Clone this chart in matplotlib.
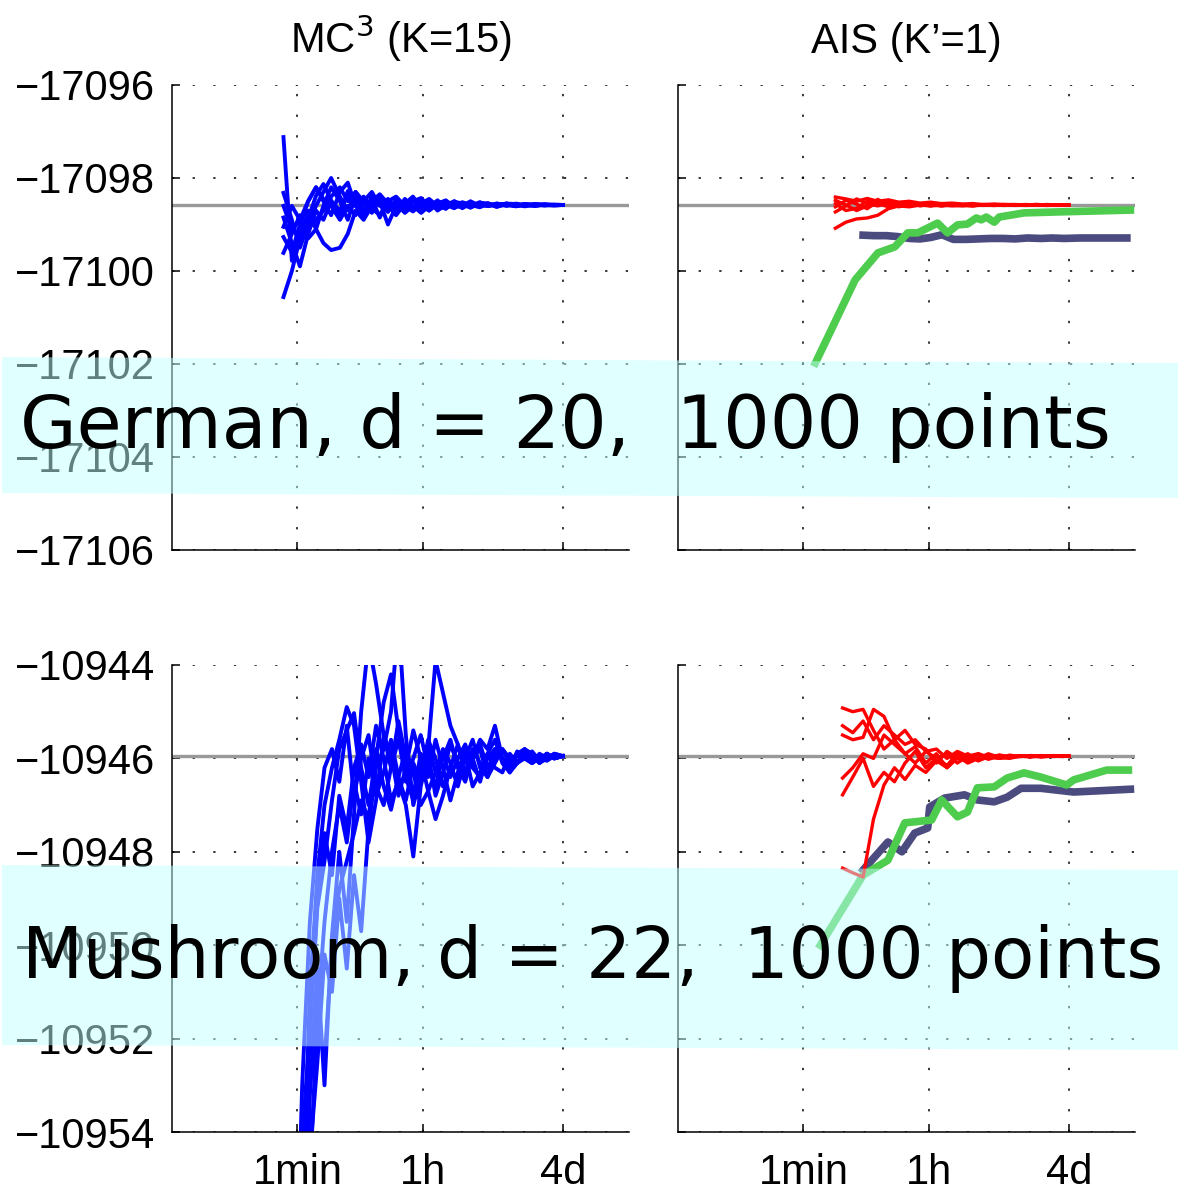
import numpy as np
import matplotlib
matplotlib.use("Agg")
import matplotlib.pyplot as plt
from matplotlib.patches import Polygon
from matplotlib.ticker import NullLocator

plt.rcParams['font.family'] = ['Liberation Sans', 'DejaVu Sans']
plt.rcParams['font.size'] = 30

## data (time in seconds, log-likelihood estimates)

# German, MC^3 runs
german_mc3_t = [38, 50, 65, 85, 110, 140, 180, 240, 310, 400, 520, 680, 880, 1150, 1500, 2000, 2600,
                3400, 4400, 5800, 7600, 10000, 13000, 17000, 23000, 30000, 40000, 55000, 75000,
                100000, 140000, 190000, 260000, 345600]
german_mc3_runs = [
    [-17097.12, -17099.78, -17099.18, -17098.88, -17098.38, -17098.13, -17098.48, -17098.78, -17098.28, -17098.53,
     -17098.83, -17098.38, -17098.48, -17098.73, -17098.46, -17098.68, -17098.50, -17098.43, -17098.63, -17098.48,
     -17098.66, -17098.52, -17098.54, -17098.64, -17098.53, -17098.55, -17098.62, -17098.55, -17098.56, -17098.61,
     -17098.56, -17098.57, -17098.59, -17098.58],
    [-17100.56, -17100.0, -17099.3, -17098.7, -17099.1, -17098.6, -17098.2, -17098.5, -17098.9, -17098.4,
     -17098.7, -17098.45, -17098.85, -17098.5, -17098.7, -17098.45, -17098.62, -17098.5, -17098.7, -17098.55,
     -17098.48, -17098.62, -17098.55, -17098.6, -17098.52, -17098.6, -17098.56, -17098.6, -17098.55, -17098.58,
     -17098.6, -17098.57, -17098.58, -17098.58],
    [-17098.32, -17098.9, -17099.5, -17099.0, -17098.6, -17098.3, -17098.0, -17098.4, -17098.7, -17098.3,
     -17098.55, -17098.75, -17098.4, -17098.6, -17098.8, -17098.55, -17098.4, -17098.65, -17098.5, -17098.7,
     -17098.58, -17098.5, -17098.65, -17098.55, -17098.6, -17098.54, -17098.62, -17098.56, -17098.6, -17098.56,
     -17098.59, -17098.57, -17098.58, -17098.58],
    [-17099.05, -17098.6, -17098.9, -17099.3, -17099.1, -17099.4, -17099.55, -17099.5, -17099.2, -17098.7,
     -17098.9, -17098.6, -17098.45, -17098.7, -17098.55, -17098.75, -17098.6, -17098.5, -17098.68, -17098.52,
     -17098.63, -17098.55, -17098.6, -17098.5, -17098.6, -17098.55, -17098.6, -17098.57, -17098.6, -17098.56,
     -17098.58, -17098.59, -17098.57, -17098.58],
    [-17099.27, -17099.6, -17099.0, -17098.5, -17098.2, -17098.5, -17098.8, -17098.3, -17098.1, -17098.6,
     -17098.4, -17098.65, -17098.8, -17098.5, -17098.4, -17098.6, -17098.72, -17098.55, -17098.45, -17098.6,
     -17098.66, -17098.5, -17098.58, -17098.63, -17098.55, -17098.6, -17098.55, -17098.58, -17098.61, -17098.57,
     -17098.58, -17098.58, -17098.59, -17098.58],
    [-17099.61, -17099.2, -17098.8, -17099.1, -17098.9, -17098.7, -17098.4, -17098.2, -17098.5, -17098.3,
     -17098.5, -17098.7, -17098.5, -17099.0, -17098.6, -17098.5, -17098.7, -17098.6, -17098.48, -17098.65,
     -17098.55, -17098.62, -17098.52, -17098.58, -17098.63, -17098.56, -17098.59, -17098.55, -17098.6, -17098.58,
     -17098.56, -17098.59, -17098.58, -17098.58],
    [-17098.85, -17099.4, -17099.9, -17099.2, -17098.7, -17098.9, -17098.5, -17098.7, -17098.35, -17098.6,
     -17098.8, -17098.5, -17098.35, -17098.55, -17098.7, -17098.6, -17098.48, -17098.6, -17098.7, -17098.56,
     -17098.5, -17098.6, -17098.63, -17098.55, -17098.58, -17098.6, -17098.55, -17098.59, -17098.57, -17098.6,
     -17098.57, -17098.58, -17098.58, -17098.58],
    [-17098.6, -17099.1, -17098.9, -17098.5, -17098.2, -17098.45, -17098.6, -17098.9, -17098.6, -17098.8,
     -17098.5, -17098.3, -17098.6, -17098.45, -17098.65, -17098.5, -17098.6, -17098.75, -17098.6, -17098.5,
     -17098.58, -17098.65, -17098.55, -17098.6, -17098.56, -17098.6, -17098.58, -17098.55, -17098.59, -17098.58,
     -17098.6, -17098.57, -17098.58, -17098.58],
]

# German, AIS (red runs, navy and green summaries)
german_ais_t = [170, 240, 340, 480, 680, 960, 1350, 1900, 2700, 3800, 5400, 7600, 11000, 15000, 21000,
                30000, 42000, 60000, 85000, 120000, 170000, 240000, 345600]
german_ais_runs = [
    [-17098.41, -17098.45, -17098.5, -17098.44, -17098.5, -17098.47, -17098.52, -17098.5, -17098.54, -17098.52,
     -17098.55, -17098.54, -17098.56, -17098.55, -17098.57, -17098.56, -17098.57, -17098.57, -17098.58, -17098.57,
     -17098.58, -17098.58, -17098.58],
    [-17099.08, -17098.95, -17098.88, -17098.86, -17098.8, -17098.66, -17098.6, -17098.62, -17098.58, -17098.6,
     -17098.58, -17098.6, -17098.59, -17098.6, -17098.58, -17098.59, -17098.58, -17098.59, -17098.58, -17098.58,
     -17098.59, -17098.58, -17098.58],
    [-17098.73, -17098.6, -17098.45, -17098.55, -17098.6, -17098.52, -17098.58, -17098.54, -17098.6, -17098.56,
     -17098.58, -17098.56, -17098.58, -17098.57, -17098.59, -17098.57, -17098.58, -17098.58, -17098.57, -17098.58,
     -17098.58, -17098.58, -17098.58],
    [-17098.55, -17098.7, -17098.65, -17098.5, -17098.55, -17098.62, -17098.55, -17098.6, -17098.55, -17098.58,
     -17098.6, -17098.57, -17098.58, -17098.6, -17098.57, -17098.58, -17098.59, -17098.58, -17098.58, -17098.58,
     -17098.57, -17098.58, -17098.58],
    [-17098.62, -17098.48, -17098.56, -17098.66, -17098.5, -17098.56, -17098.62, -17098.56, -17098.58, -17098.55,
     -17098.6, -17098.58, -17098.57, -17098.59, -17098.58, -17098.58, -17098.57, -17098.58, -17098.59, -17098.58,
     -17098.58, -17098.58, -17098.58],
    [-17098.48, -17098.58, -17098.7, -17098.6, -17098.46, -17098.58, -17098.54, -17098.6, -17098.56, -17098.6,
     -17098.56, -17098.58, -17098.6, -17098.57, -17098.58, -17098.59, -17098.58, -17098.58, -17098.58, -17098.57,
     -17098.58, -17098.58, -17098.58],
]
german_navy_t = [420, 600, 900, 1300, 1900, 2700, 3800, 5500, 8000, 12000, 18000, 27000, 40000, 60000,
                 90000, 140000, 200000, 300000, 500000, 800000, 1400000, 2300000]
german_navy_v = [-17099.23, -17099.24, -17099.24, -17099.26, -17099.30, -17099.31, -17099.28, -17099.22,
                 -17099.32, -17099.32, -17099.31, -17099.3, -17099.3, -17099.31, -17099.29, -17099.3,
                 -17099.29, -17099.3, -17099.29, -17099.29, -17099.29, -17099.29]
german_green_t = [88.5, 324, 682, 1185, 1807, 2500, 4780, 6600, 9140, 12650, 16900, 19900, 23400, 30400,
                  35700, 80400, 234000, 2580000]
german_green_v = [-17101.98, -17100.19, -17099.61, -17099.48, -17099.18, -17099.18, -17098.97, -17099.18,
                  -17099.01, -17098.99, -17098.86, -17098.90, -17098.84, -17098.95, -17098.84, -17098.75,
                  -17098.73, -17098.69]
german_true = -17098.58

# Mushroom, MC^3 runs
mush_mc3_t = [56, 70, 90, 115, 145, 185, 235, 300, 380, 480, 610, 780, 1000, 1270, 1620, 2060, 2630, 3350,
              4270, 5440, 6930, 8830, 11250, 14330, 18260, 23260, 29640, 37760, 48110, 61300, 78100, 99500,
              126800, 161500, 205800, 262200, 345600]
mush_mc3_runs = [
    [-10958, -10953, -10949.5, -10947.5, -10946.2, -10945.8, -10946.5, -10945.3, -10946.8, -10946.0,
     -10945.5, -10946.6, -10947.0, -10946.2, -10945.6, -10946.4, -10946.9, -10946.1, -10945.7, -10946.3,
     -10946.0, -10945.6, -10946.2, -10946.5, -10945.9, -10945.7, -10946.2, -10946.0, -10945.8, -10946.1,
     -10945.9, -10946.0, -10945.85, -10946.05, -10945.9, -10946.0, -10945.95],
    [-10960, -10956, -10951, -10948.5, -10947, -10946.2, -10945.6, -10944.9, -10945.3, -10946.5,
     -10947.8, -10946.9, -10945.5, -10945.9, -10946.8, -10946.2, -10945.4, -10946.0, -10946.7, -10946.3,
     -10945.8, -10946.1, -10946.6, -10946.0, -10945.6, -10946.2, -10946.4, -10945.8, -10946.0, -10946.2,
     -10945.9, -10945.8, -10946.1, -10946.0, -10945.9, -10946.0, -10945.95],
    [-10962, -10958, -10953.2, -10950.5, -10953.0, -10949.8, -10948.0, -10949.5, -10947.2, -10945.0,
     -10943.5, -10944.4, -10945.5, -10946.2, -10945.2, -10946.0, -10946.8, -10945.9, -10946.4, -10945.6,
     -10946.2, -10946.9, -10946.3, -10945.8, -10946.0, -10946.5, -10945.9, -10945.6, -10946.1, -10946.3,
     -10945.9, -10946.0, -10946.1, -10945.9, -10946.0, -10945.95, -10945.95],
    [-10961, -10957, -10954.5, -10952.5, -10950.2, -10951.0, -10949.0, -10950.5, -10948.5, -10949.7,
     -10947.5, -10946.2, -10945.8, -10945.0, -10943.0, -10945.5, -10947.0, -10946.4, -10945.6, -10946.0,
     -10946.6, -10946.2, -10945.7, -10946.3, -10946.0, -10945.8, -10946.4, -10946.1, -10945.8, -10946.0,
     -10946.1, -10945.9, -10946.0, -10946.05, -10945.9, -10946.0, -10945.95],
    [-10959, -10955, -10952, -10949.0, -10947.6, -10948.5, -10946.8, -10947.5, -10946.2, -10945.7,
     -10946.4, -10945.3, -10946.0, -10946.9, -10946.5, -10947.0, -10948.1, -10946.6, -10945.9, -10946.8,
     -10946.3, -10945.7, -10946.1, -10946.4, -10945.8, -10946.1, -10946.2, -10945.9, -10946.0, -10946.2,
     -10945.85, -10946.0, -10946.1, -10945.95, -10946.0, -10945.9, -10945.95],
    [-10963, -10959, -10955, -10951.5, -10949.5, -10948.0, -10947.0, -10947.8, -10946.5, -10947.2,
     -10946.0, -10946.8, -10946.3, -10945.6, -10946.4, -10946.9, -10946.1, -10946.5, -10945.8, -10943.9,
     -10944.6, -10945.3, -10945.7, -10946.3, -10946.0, -10945.6, -10945.8, -10945.3, -10946.0, -10946.3,
     -10946.1, -10945.8, -10945.9, -10946.1, -10946.0, -10945.9, -10945.95],
    [-10960, -10955.5, -10953.0, -10951.5, -10952.5, -10950.0, -10948.8, -10948.2, -10947.6, -10946.9,
     -10947.3, -10945.8, -10946.6, -10947.1, -10946.4, -10945.8, -10946.3, -10947.0, -10946.7, -10947.3,
     -10946.8, -10946.2, -10946.5, -10945.9, -10946.6, -10946.3, -10945.9, -10946.2, -10946.3, -10945.9,
     -10946.1, -10946.0, -10945.9, -10946.0, -10946.05, -10945.95, -10945.95],
    [-10958, -10954.2, -10951.8, -10949.2, -10948.2, -10946.9, -10945.8, -10945.4, -10945.03, -10946.2,
     -10947.0, -10946.0, -10944.8, -10944.2, -10945.4, -10946.5, -10946.0, -10945.5, -10946.2, -10946.6,
     -10945.9, -10946.4, -10946.0, -10945.7, -10946.2, -10946.4, -10946.0, -10945.8, -10946.0, -10946.1,
     -10945.9, -10946.0, -10945.95, -10946.1, -10945.9, -10946.0, -10945.95],
]

# Mushroom, AIS
mush_ais_t = [215, 300, 420, 590, 830, 1170, 1650, 2300, 3250, 4600, 6500, 9100, 12800, 18000, 25000,
              36000, 50000, 70000, 100000, 140000, 200000, 280000, 345600]
mush_ais_runs = [
    [-10944.92, -10945.0, -10944.95, -10945.4, -10945.8, -10945.6, -10945.9, -10946.1, -10945.85, -10946.0,
     -10946.15, -10945.9, -10946.0, -10945.92, -10946.02, -10945.95, -10945.98, -10945.94, -10945.96, -10945.95,
     -10945.94, -10945.96, -10945.95],
    [-10945.5, -10945.6, -10945.55, -10944.95, -10945.1, -10945.6, -10945.4, -10945.7, -10945.8, -10946.1,
     -10945.85, -10946.0, -10946.05, -10945.9, -10945.97, -10946.0, -10945.93, -10945.96, -10945.95, -10945.97,
     -10945.95, -10945.95, -10945.95],
    [-10946.42, -10946.2, -10945.9, -10946.0, -10945.5, -10945.7, -10945.9, -10945.75, -10946.1, -10945.9,
     -10946.2, -10945.95, -10946.1, -10946.0, -10945.9, -10945.98, -10946.0, -10945.95, -10945.97, -10945.94,
     -10945.96, -10945.95, -10945.95],
    [-10946.78, -10946.4, -10946.0, -10946.6, -10946.3, -10946.5, -10946.1, -10945.85, -10946.2, -10946.0,
     -10945.9, -10946.1, -10945.95, -10946.05, -10945.97, -10945.93, -10945.98, -10945.96, -10945.94, -10945.96,
     -10945.95, -10945.95, -10945.95],
    [-10948.35, -10948.45, -10948.54, -10947.3, -10946.57, -10946.2, -10946.45, -10946.15, -10946.3, -10946.05,
     -10946.2, -10946.0, -10945.9, -10946.05, -10945.95, -10946.0, -10945.97, -10945.95, -10945.96, -10945.94,
     -10945.95, -10945.95, -10945.95],
    [-10945.3, -10945.45, -10945.2, -10945.6, -10945.3, -10945.5, -10945.7, -10945.6, -10945.85, -10945.8,
     -10946.0, -10945.85, -10945.95, -10945.9, -10946.0, -10945.93, -10945.96, -10945.95, -10945.94, -10945.96,
     -10945.95, -10945.95, -10945.95],
]
mush_navy_t = [420, 944, 1490, 2260, 3460, 3690, 6000, 11500, 17500, 30300, 46300, 72800, 139000, 406000, 2580000]
mush_navy_v = [-10948.39, -10947.79, -10948.0, -10947.6, -10947.49, -10947.04, -10946.85, -10946.78,
               -10946.89, -10946.93, -10946.83, -10946.64, -10946.64, -10946.72, -10946.66]
mush_green_t = [104, 420, 944, 1640, 3930, 5450, 9140, 12650, 17500, 30300, 46300, 80400, 139000, 323000,
                406000, 1190000, 2420000]
mush_green_v = [-10950.0, -10948.5, -10948.18, -10947.38, -10947.32, -10946.89, -10947.25, -10947.15,
                -10946.63, -10946.61, -10946.42, -10946.31, -10946.4, -10946.57, -10946.46, -10946.25, -10946.25]
mush_true = -10945.95

# axis ticks
x_ticks = [60, 3600, 345600]
x_tick_labels = ["1min", "1h", "4d"]
german_yticks = [-17106, -17104, -17102, -17100, -17098, -17096]
german_ylabels = ["\u221217106", "\u221217104", "\u221217102", "\u221217100", "\u221217098", "\u221217096"]
mush_yticks = [-10954, -10952, -10950, -10948, -10946, -10944]
mush_ylabels = ["\u221210954", "\u221210952", "\u221210950", "\u221210948", "\u221210946", "\u221210944"]

titles = ["MC$^3$ (K=15)", "AIS (K\u2019=1)"]
banners = ["German, d = 20,  1000 points", "Mushroom, d = 22,  1000 points"]

BLUE = "#0000ff"
RED = "#ff0000"
NAVY = "#4b4b80"
GREEN = "#4dcc4d"
GREY = "#999999"

W, H = 1178, 1194
fig = plt.figure(figsize=(W / 100, H / 100), dpi=100)

def px_axes(left, top, right, bottom):
    return fig.add_axes([left / W, 1 - bottom / H, (right - left) / W, (bottom - top) / H])

ax_gm = px_axes(172, 85, 629, 550)
ax_ga = px_axes(678, 85, 1135, 550)
ax_mm = px_axes(172, 665, 629, 1132)
ax_ma = px_axes(678, 665, 1135, 1132)

def style(ax, yticks, ylabels, show_y, show_x):
    ax.set_xscale("log")
    ax.set_xlim(1, 3e6)
    ax.set_ylim(yticks[0], yticks[-1])
    ax.set_xticks(x_ticks)
    ax.xaxis.set_minor_locator(NullLocator())
    ax.set_yticks(yticks)
    if show_x:
        ax.set_xticklabels(x_tick_labels)
    else:
        ax.set_xticklabels([])
    if show_y:
        ax.set_yticklabels(ylabels)
    else:
        ax.set_yticklabels([])
    ax.tick_params(direction="in", length=6, width=1.1, labelsize=30)
    ax.tick_params(axis="x", pad=15)
    ax.tick_params(axis="y", pad=12)
    for s in ["top", "right"]:
        ax.spines[s].set_visible(False)
    for s in ["left", "bottom"]:
        ax.spines[s].set_linewidth(1.1)
    ax.grid(True, color="k", linestyle=(0, (1.5, 12)), linewidth=1.1)
    ax.set_axisbelow(True)

style(ax_gm, german_yticks, german_ylabels, True, False)
style(ax_ga, german_yticks, german_ylabels, False, False)
style(ax_mm, mush_yticks, mush_ylabels, True, True)
style(ax_ma, mush_yticks, mush_ylabels, False, True)

ax_gm.set_title(titles[0], fontsize=30, pad=23)
ax_ga.set_title(titles[1], fontsize=30, pad=23)

# reference value
for ax, tv in [(ax_gm, german_true), (ax_ga, german_true), (ax_mm, mush_true), (ax_ma, mush_true)]:
    ax.axhline(tv, color=GREY, lw=2.4, zorder=1.5)

# MC^3 runs
for run in german_mc3_runs:
    ax_gm.plot(german_mc3_t, run, color=BLUE, lw=2.8)
for run in mush_mc3_runs:
    ax_mm.plot(mush_mc3_t, run, color=BLUE, lw=2.8)

# AIS
ax_ga.plot(german_navy_t, german_navy_v, color=NAVY, lw=5.5)
ax_ga.plot(german_green_t, german_green_v, color=GREEN, lw=5.5)
for run in german_ais_runs:
    ax_ga.plot(german_ais_t, run, color=RED, lw=2.4)

ax_ma.plot(mush_navy_t, mush_navy_v, color=NAVY, lw=5.5)
ax_ma.plot(mush_green_t, mush_green_v, color=GREEN, lw=5.5)
for run in mush_ais_runs:
    ax_ma.plot(mush_ais_t, run, color=RED, lw=2.4)

# translucent banners with the dataset description
def fxy(x, y):
    return (x / W, 1 - y / H)

band_german = [fxy(2, 357), fxy(W, 363), fxy(W, 498), fxy(2, 493)]
band_mush = [fxy(2, 865), fxy(W, 870), fxy(W, 1050), fxy(2, 1045)]
for band in [band_german, band_mush]:
    fig.add_artist(Polygon(band, closed=True, transform=fig.transFigure,
                           facecolor=(0.76, 1.0, 1.0), edgecolor="none", alpha=0.5, zorder=5))

txt_g = fig.text(20 / W, 1 - 448 / H, banners[0], fontsize=50, family="DejaVu Sans",
                 ha="left", va="baseline", zorder=6)
txt_m = fig.text(22 / W, 1 - 978 / H, banners[1], fontsize=50, family="DejaVu Sans",
                 ha="left", va="baseline", zorder=6)

# scale the banner text to the width it has in the original
fig.canvas.draw()
for t, width in [(txt_g, 1092), (txt_m, 1143)]:
    bb = t.get_window_extent()
    t.set_fontsize(50 * width / bb.width)

fig.savefig("out.png", dpi=100)
